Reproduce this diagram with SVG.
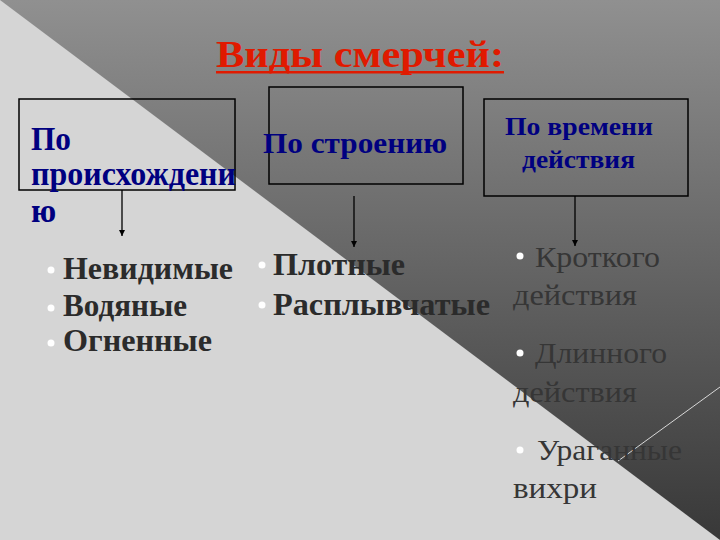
<svg xmlns="http://www.w3.org/2000/svg" width="720" height="540" viewBox="0 0 720 540">
<defs>
<linearGradient id="bg" x1="0" y1="0" x2="0" y2="1">
<stop offset="0" stop-color="#909090"/>
<stop offset="1" stop-color="#383838"/>
</linearGradient>
<marker id="ah" viewBox="0 0 10 10" refX="10" refY="5" markerWidth="6" markerHeight="6" orient="auto" markerUnits="userSpaceOnUse">
<path d="M0,0 L10,5 L0,10 z" fill="#000"/>
</marker>
<style>
.box{fill:none;stroke:#000;stroke-width:1.5}
.hd{font-family:"Liberation Serif","Times New Roman",serif;font-weight:bold;fill:#000080}
.b1{font-family:"Liberation Serif","Times New Roman",serif;font-weight:bold;fill:#2b2b2b;font-size:32px}
.b2{font-family:"Liberation Serif","Times New Roman",serif;fill:#363636;font-size:29px}
.dot{fill:#ffffff}
.conn{stroke:#000;stroke-width:1.3;fill:none;marker-end:url(#ah)}
</style>
</defs>
<rect x="0" y="0" width="720" height="540" fill="url(#bg)"/>
<polygon points="0,0 720,540 0,540" fill="#d5d5d5"/>
<line x1="720" y1="387" x2="618" y2="461" stroke="#d8d8d8" stroke-width="1"/>

<g id="title">
<text x="216" y="67" font-family="'Liberation Serif','Times New Roman',serif" font-weight="bold" font-size="38" fill="#e01a00" textLength="288" lengthAdjust="spacingAndGlyphs">Виды смерчей:</text>
<rect x="216" y="71" width="288" height="2.5" fill="#e01a00"/>
</g>

<g id="node-origin">
<rect class="box" x="19" y="99" width="216" height="91"/>
<text class="hd" font-size="33" x="31" y="150" textLength="40" lengthAdjust="spacingAndGlyphs">По</text>
<text class="hd" font-size="33" x="31" y="185" textLength="205" lengthAdjust="spacingAndGlyphs">происхождени</text>
<text class="hd" font-size="33" x="31" y="222">ю</text>
</g>

<g id="node-structure">
<rect class="box" x="269" y="87" width="194" height="97"/>
<text class="hd" font-size="30" x="263" y="153" textLength="184" lengthAdjust="spacingAndGlyphs">По строению</text>
</g>

<g id="node-time">
<rect class="box" x="484" y="99" width="204" height="97"/>
<text class="hd" font-size="25" x="505" y="135" textLength="148" lengthAdjust="spacingAndGlyphs">По времени</text>
<text class="hd" font-size="25" x="522" y="168" textLength="113" lengthAdjust="spacingAndGlyphs">действия</text>
</g>

<g id="connectors">
<line class="conn" x1="122" y1="190" x2="122" y2="236"/>
<line class="conn" x1="354" y1="196" x2="354" y2="247"/>
<line class="conn" x1="575" y1="196" x2="575" y2="246"/>
</g>

<g id="list-origin">
<circle class="dot" cx="51" cy="270" r="3.5"/>
<text class="b1" x="63" y="279" textLength="170" lengthAdjust="spacingAndGlyphs">Невидимые</text>
<circle class="dot" cx="51" cy="308" r="3.5"/>
<text class="b1" x="63" y="316" textLength="124" lengthAdjust="spacingAndGlyphs">Водяные</text>
<circle class="dot" cx="51" cy="343" r="3.5"/>
<text class="b1" x="63" y="351" textLength="149" lengthAdjust="spacingAndGlyphs">Огненные</text>
</g>

<g id="list-structure">
<circle class="dot" cx="262" cy="265" r="3.5"/>
<text class="b1" x="273" y="275" textLength="132" lengthAdjust="spacingAndGlyphs">Плотные</text>
<circle class="dot" cx="262" cy="305" r="3.5"/>
<text class="b1" x="273" y="315" textLength="217" lengthAdjust="spacingAndGlyphs">Расплывчатые</text>
</g>

<g id="list-time">
<circle class="dot" cx="520" cy="256" r="3.5"/>
<text class="b2" x="535" y="267" textLength="125" lengthAdjust="spacingAndGlyphs">Кроткого</text>
<text class="b2" x="513" y="305" textLength="124" lengthAdjust="spacingAndGlyphs">действия</text>
<circle class="dot" cx="520" cy="353" r="3.5"/>
<text class="b2" x="535" y="363" textLength="132" lengthAdjust="spacingAndGlyphs">Длинного</text>
<text class="b2" x="513" y="402" textLength="124" lengthAdjust="spacingAndGlyphs">действия</text>
<circle class="dot" cx="520" cy="450" r="3.5"/>
<text class="b2" x="537" y="460" textLength="145" lengthAdjust="spacingAndGlyphs">Ураганные</text>
<text class="b2" x="513" y="498" textLength="84" lengthAdjust="spacingAndGlyphs">вихри</text>
</g>
</svg>
